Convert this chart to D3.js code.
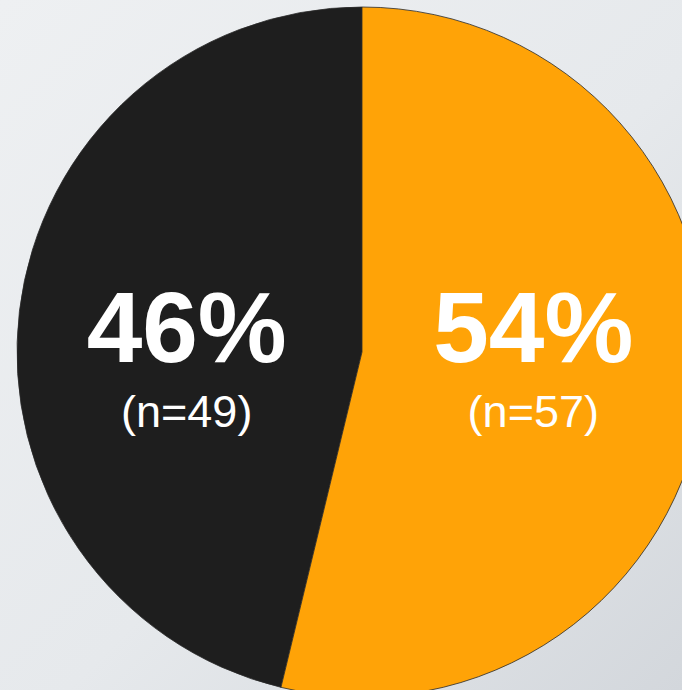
<!DOCTYPE html>
<html>
<head>
<meta charset="utf-8">
<script src="https://cdn.jsdelivr.net/npm/d3@7"></script>
<style>
  html, body { margin: 0; padding: 0; }
  body { width: 682px; height: 690px; overflow: hidden; }
</style>
</head>
<body>
<script>
// data
var groups = ["No", "Yes"];
var counts = [49, 57];
var percents = ["46%", "54%"];
var countLabels = ["(n=49)", "(n=57)"];
var colors = ["#1e1e1e", "#ffa307"];

var width = 682, height = 690;
var cx = 362, cy = 352, radius = 345;

var svg = d3.select("body").append("svg")
    .attr("width", width)
    .attr("height", height);

// soft grey backdrop
var defs = svg.append("defs");
var grad = defs.append("linearGradient")
    .attr("id", "bg")
    .attr("x1", "0").attr("y1", "0")
    .attr("x2", "1").attr("y2", "1");
grad.append("stop").attr("offset", "0%").attr("stop-color", "#eef0f2");
grad.append("stop").attr("offset", "55%").attr("stop-color", "#e6e9ec");
grad.append("stop").attr("offset", "100%").attr("stop-color", "#d3d7dc");

svg.append("rect")
    .attr("width", width)
    .attr("height", height)
    .attr("fill", "url(#bg)");

var g = svg.append("g")
    .attr("transform", "translate(" + cx + "," + cy + ")");

var data = groups.map(function (d, i) {
    return {group: d, count: counts[i], pct: percents[i], n: countLabels[i], color: colors[i]};
});

// orange slice starts at 12 o'clock and runs clockwise
var share0 = counts[0] / d3.sum(counts);
var pie = d3.pie()
    .sort(null)
    .value(function (d) { return d.count; })
    .startAngle(Math.PI * 2 - share0 * Math.PI * 2)
    .endAngle(Math.PI * 4 - share0 * Math.PI * 2);

var arc = d3.arc().innerRadius(0).outerRadius(radius);
var labelArc = d3.arc().innerRadius(0).outerRadius(radius * 1.0);

var arcs = pie(data);

g.selectAll(".slice")
    .data(arcs)
    .enter().append("path")
    .attr("class", "slice")
    .attr("d", arc)
    .attr("fill", function (d) { return d.data.color; })
    .attr("stroke", "#2a2a2a")
    .attr("stroke-width", 0.8);

// labels
var labels = g.selectAll(".label")
    .data(arcs)
    .enter().append("g")
    .attr("class", "label")
    .attr("transform", function (d) {
        var x = labelArc.centroid(d)[0];
        return "translate(" + (x < 0 ? x - 4 : x) + ",0)";
    });

labels.append("text")
    .attr("y", 10)
    .attr("text-anchor", "middle")
    .attr("fill", "#ffffff")
    .style("font-family", "Liberation Sans, Arial, sans-serif")
    .style("font-weight", "bold")
    .style("font-size", "100px")
    .text(function (d) { return d.data.pct; });

labels.append("text")
    .attr("y", 75)
    .attr("text-anchor", "middle")
    .attr("fill", "#ffffff")
    .style("font-family", "Liberation Sans, Arial, sans-serif")
    .style("font-size", "45px")
    .text(function (d) { return d.data.n; });
</script>
</body>
</html>
